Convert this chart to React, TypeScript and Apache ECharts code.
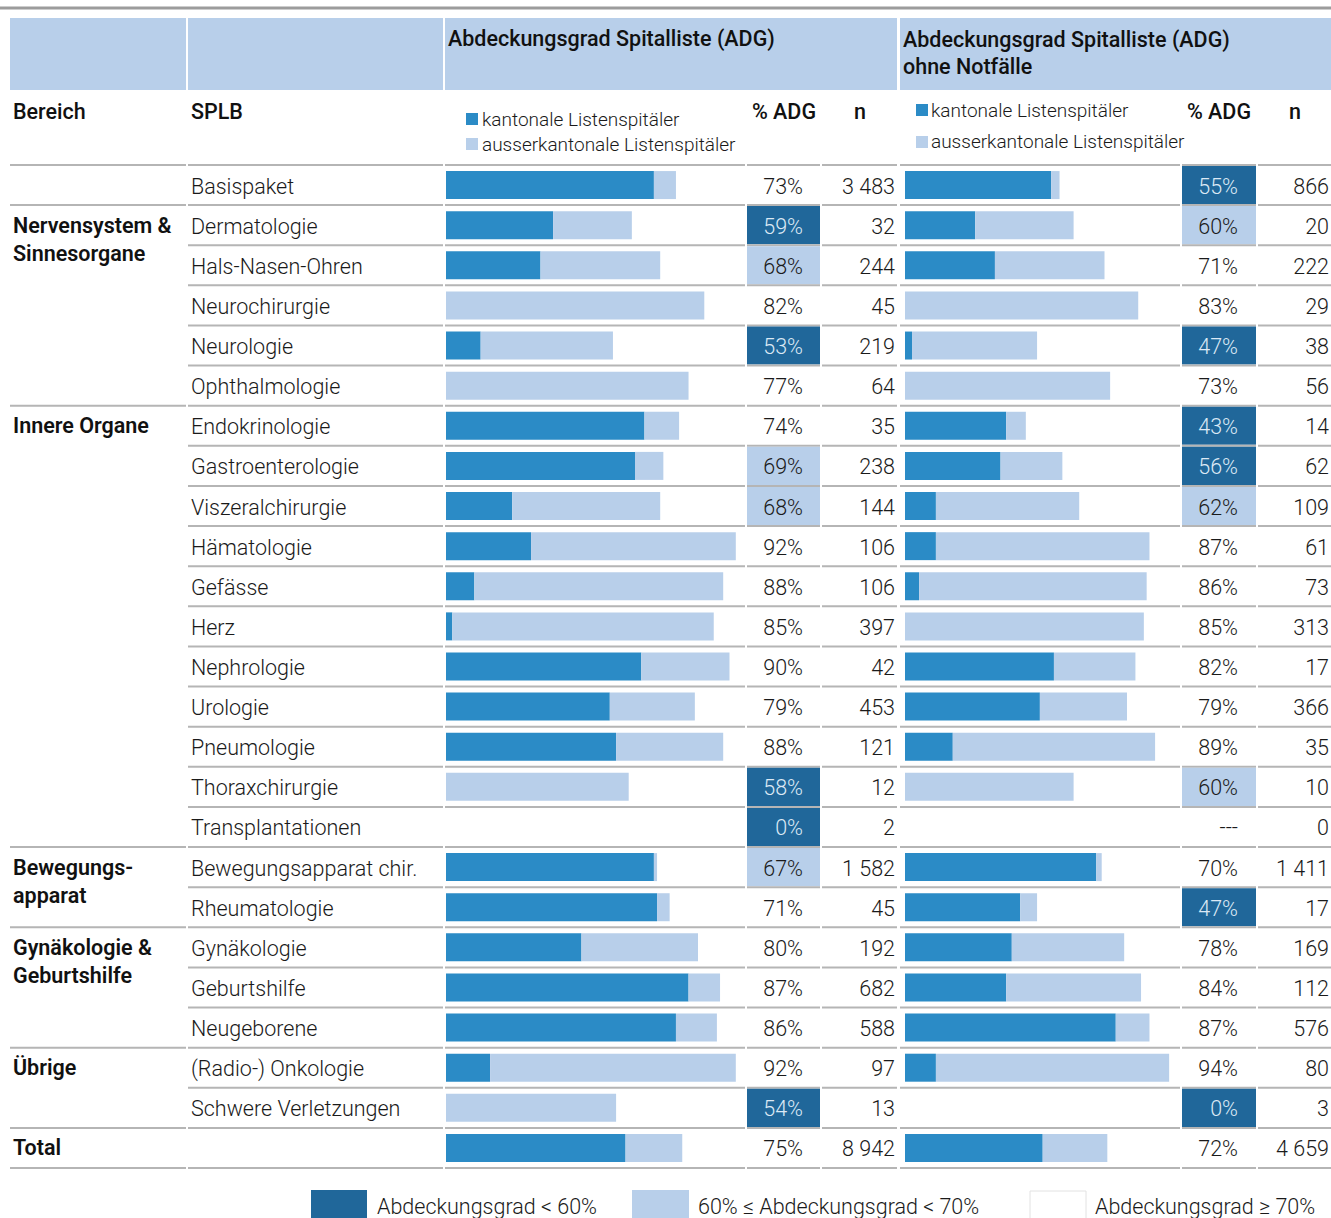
import React, { useEffect, useRef } from "react";
import * as echarts from "echarts";

const splb = [
  "Basispaket", "Dermatologie", "Hals-Nasen-Ohren", "Neurochirurgie", "Neurologie", "Ophthalmologie",
  "Endokrinologie", "Gastroenterologie", "Viszeralchirurgie", "Hämatologie", "Gefässe", "Herz",
  "Nephrologie", "Urologie", "Pneumologie", "Thoraxchirurgie", "Transplantationen",
  "Bewegungsapparat chir.", "Rheumatologie", "Gynäkologie", "Geburtshilfe", "Neugeborene",
  "(Radio-) Onkologie", "Schwere Verletzungen", "",
];
const bereich = [
  "", "Nervensystem &\nSinnesorgane", "", "", "", "",
  "Innere Organe", "", "", "", "", "", "", "", "", "", "",
  "Bewegungs-\napparat", "", "Gynäkologie &\nGeburtshilfe", "", "",
  "Übrige", "", "Total",
];
const groupStart = [0, 1, 6, 17, 19, 22, 24];

const adg1 = [73, 59, 68, 82, 53, 77, 74, 69, 68, 92, 88, 85, 90, 79, 88, 58, 0, 67, 71, 80, 87, 86, 92, 54, 75];
const kant1 = [66, 34, 30, 0, 11, 0, 63, 60, 21, 27, 9, 2, 62, 52, 54, 0, 0, 66, 67, 43, 77, 73, 14, 0, 57];
const n1 = [3483, 32, 244, 45, 219, 64, 35, 238, 144, 106, 106, 397, 42, 453, 121, 12, 2, 1582, 45, 192, 682, 588, 97, 13, 8942];

const adg2: (number | null)[] = [55, 60, 71, 83, 47, 73, 43, 56, 62, 87, 86, 85, 82, 79, 89, 60, null, 70, 47, 78, 84, 87, 94, 0, 72];
const kant2 = [52, 25, 32, 0, 2.5, 0, 36, 34, 11, 11, 5, 0, 53, 48, 17, 0, 0, 68, 41, 38, 36, 75, 11, 0, 49];
const n2 = [866, 20, 222, 29, 38, 56, 14, 62, 109, 61, 73, 313, 17, 366, 35, 10, 0, 1411, 17, 169, 112, 576, 80, 3, 4659];

const ausser1 = adg1.map((v, i) => Math.max(0, v - kant1[i]));
const ausser2 = adg2.map((v, i) => Math.max(0, (v ?? 0) - kant2[i]));

const C_DARK_BAR = "#2b8bc6";
const C_LIGHT = "#b8cfea";
const C_DARK_CELL = "#20679a";
const C_LINE = "#b5b5b5";
const C_TEXT = "#1a1a1a";
const FONT = "Roboto, 'Noto Sans', sans-serif";
const FS = 21.5;

const fmtN = (v: number) => String(v).replace(/\B(?=(\d{3})+(?!\d))/g, " ");
const fmtP = (v: number | null) => (v === null ? "---" : v + "%");

const segments: [number, number][] = [
  [10, 186], [188, 443], [445, 745], [747, 820], [822, 897], [900, 1180], [1182, 1256], [1258, 1331],
];

function txt(text: string, x: number, y: number, opts: any = {}) {
  const align = opts.align || "left";
  const va = opts.va || "middle";
  return {
    type: "text",
    x,
    y,
    silent: true,
    style: {
      text,
      fill: opts.fill || C_TEXT,
      fontSize: opts.size || FS,
      fontWeight: opts.weight || 300,
      fontFamily: FONT,
      lineHeight: opts.lh,
      align,
      textAlign: align,
      verticalAlign: va,
      textVerticalAlign: va,
    },
  };
}

function cellColor(v: number | null) {
  if (v === null) return null;
  if (v < 60) return C_DARK_CELL;
  if (v < 70) return C_LIGHT;
  return null;
}

export default function App() {
  const ref = useRef<HTMLDivElement>(null);
  useEffect(() => {
    if (!ref.current) return;
    const chart = echarts.init(ref.current, undefined, { renderer: "svg" });
    const cats = splb.map((_, i) => String(i));

    const renderRow = (params: any, api: any) => {
      const i = api.value(1);
      const yc = api.coord([0, i])[1];
      const h = api.size([0, 1])[1];
      const top = yc - h / 2;
      const bottom = yc + h / 2;
      const children: any[] = [];
      const isStart = groupStart.indexOf(i) >= 0;
      segments.forEach((s, k) => {
        if (k === 0 && !isStart) return;
        children.push({
          type: "line",
          shape: { x1: s[0], y1: top, x2: s[1], y2: top },
          style: { stroke: C_LINE, lineWidth: 2 },
        });
        if (i === splb.length - 1) {
          children.push({
            type: "line",
            shape: { x1: s[0], y1: bottom, x2: s[1], y2: bottom },
            style: { stroke: C_LINE, lineWidth: 2 },
          });
        }
      });
      const c1 = cellColor(adg1[i]);
      if (c1) {
        children.push({ type: "rect", shape: { x: 747, y: top + 1, width: 73, height: h - 2 }, style: { fill: c1 } });
      }
      const c2 = cellColor(adg2[i]);
      if (c2) {
        children.push({ type: "rect", shape: { x: 1182, y: top + 1, width: 74, height: h - 2 }, style: { fill: c2 } });
      }
      if (bereich[i]) {
        children.push(txt(bereich[i], 13, yc - 14, { weight: 600, va: "top", lh: 28, fill: "#111" }));
      }
      if (splb[i]) children.push(txt(splb[i], 191, yc + 1));
      children.push(txt(fmtP(adg1[i]), 803, yc + 1, { align: "right", fill: c1 === C_DARK_CELL ? "#dce9f5" : C_TEXT }));
      children.push(txt(fmtN(n1[i]), 895, yc + 1, { align: "right" }));
      children.push(txt(fmtP(adg2[i]), 1238, yc + 1, { align: "right", fill: c2 === C_DARK_CELL ? "#dce9f5" : C_TEXT }));
      children.push(txt(fmtN(n2[i]), 1329, yc + 1, { align: "right" }));
      return { type: "group", children };
    };

    const gridTop = 165;
    const gridH = 1003;

    const option: any = {
      animation: false,
      grid: [
        { left: 0, top: gridTop, width: 1331, height: gridH },
        { left: 446, top: gridTop, width: 315, height: gridH },
        { left: 905, top: gridTop, width: 281, height: gridH },
      ],
      xAxis: [
        { type: "value", gridIndex: 0, min: 0, max: 1331, show: false },
        { type: "value", gridIndex: 1, min: 0, max: 100, show: false },
        { type: "value", gridIndex: 2, min: 0, max: 100, show: false },
      ],
      yAxis: [0, 1, 2].map((g) => ({
        type: "category",
        gridIndex: g,
        data: cats,
        inverse: true,
        show: false,
      })),
      series: [
        {
          type: "custom",
          xAxisIndex: 0,
          yAxisIndex: 0,
          clip: false,
          silent: true,
          data: splb.map((_, i) => [0, i]),
          renderItem: renderRow,
        },
        {
          type: "bar", xAxisIndex: 1, yAxisIndex: 1, stack: "p1", barWidth: 28, silent: true,
          data: kant1, itemStyle: { color: C_DARK_BAR },
        },
        {
          type: "bar", xAxisIndex: 1, yAxisIndex: 1, stack: "p1", barWidth: 28, silent: true,
          data: ausser1, itemStyle: { color: C_LIGHT },
        },
        {
          type: "bar", xAxisIndex: 2, yAxisIndex: 2, stack: "p2", barWidth: 28, silent: true,
          data: kant2, itemStyle: { color: C_DARK_BAR },
        },
        {
          type: "bar", xAxisIndex: 2, yAxisIndex: 2, stack: "p2", barWidth: 28, silent: true,
          data: ausser2, itemStyle: { color: C_LIGHT },
        },
      ],
      graphic: [
        { type: "line", silent: true, shape: { x1: 0, y1: 8, x2: 1331, y2: 8 }, style: { stroke: "#9c9c9c", lineWidth: 3 } },
        { type: "rect", silent: true, shape: { x: 10, y: 18, width: 176, height: 72 }, style: { fill: C_LIGHT } },
        { type: "rect", silent: true, shape: { x: 188, y: 18, width: 255, height: 72 }, style: { fill: C_LIGHT } },
        { type: "rect", silent: true, shape: { x: 445, y: 18, width: 452, height: 72 }, style: { fill: C_LIGHT } },
        { type: "rect", silent: true, shape: { x: 900, y: 18, width: 431, height: 72 }, style: { fill: C_LIGHT } },
        txt("Abdeckungsgrad Spitalliste (ADG)", 448, 38, { weight: 500, fill: "#111" }),
        txt("Abdeckungsgrad Spitalliste (ADG)", 903, 39, { weight: 500, fill: "#111" }),
        txt("ohne Notfälle", 903, 66, { weight: 500, fill: "#111" }),
        txt("Bereich", 13, 111, { weight: 500, fill: "#111" }),
        txt("SPLB", 191, 111, { weight: 500, fill: "#111" }),
        txt("% ADG", 784, 111, { weight: 500, fill: "#111", align: "center" }),
        txt("n", 860, 111, { weight: 500, fill: "#111", align: "center" }),
        txt("% ADG", 1219, 111, { weight: 500, fill: "#111", align: "center" }),
        txt("n", 1295, 111, { weight: 500, fill: "#111", align: "center" }),
        { type: "rect", silent: true, shape: { x: 466, y: 113, width: 12, height: 12 }, style: { fill: C_DARK_BAR } },
        txt("kantonale Listenspitäler", 482, 119, { size: 19 }),
        { type: "rect", silent: true, shape: { x: 466, y: 138, width: 12, height: 12 }, style: { fill: C_LIGHT } },
        txt("ausserkantonale Listenspitäler", 482, 144, { size: 19 }),
        { type: "rect", silent: true, shape: { x: 916, y: 104, width: 12, height: 12 }, style: { fill: C_DARK_BAR } },
        txt("kantonale Listenspitäler", 931, 110, { size: 19 }),
        { type: "rect", silent: true, shape: { x: 916, y: 136, width: 12, height: 12 }, style: { fill: C_LIGHT } },
        txt("ausserkantonale Listenspitäler", 931, 141, { size: 19 }),
        { type: "rect", silent: true, shape: { x: 311, y: 1190, width: 56, height: 30 }, style: { fill: C_DARK_CELL } },
        txt("Abdeckungsgrad < 60%", 377, 1206),
        { type: "rect", silent: true, shape: { x: 632, y: 1190, width: 57, height: 30 }, style: { fill: C_LIGHT } },
        txt("60% ≤ Abdeckungsgrad < 70%", 698, 1206),
        { type: "rect", silent: true, shape: { x: 1030, y: 1191, width: 56, height: 30 }, style: { fill: "#ffffff", stroke: "#e2e2e2", lineWidth: 1 } },
        txt("Abdeckungsgrad ≥ 70%", 1095, 1206),
      ],
    };
    chart.setOption(option);
    return () => chart.dispose();
  }, []);
  return (
    <div
      ref={ref}
      style={{ position: "absolute", left: 0, top: 0, width: 1331, height: 1218, background: "#ffffff" }}
    />
  );
}
